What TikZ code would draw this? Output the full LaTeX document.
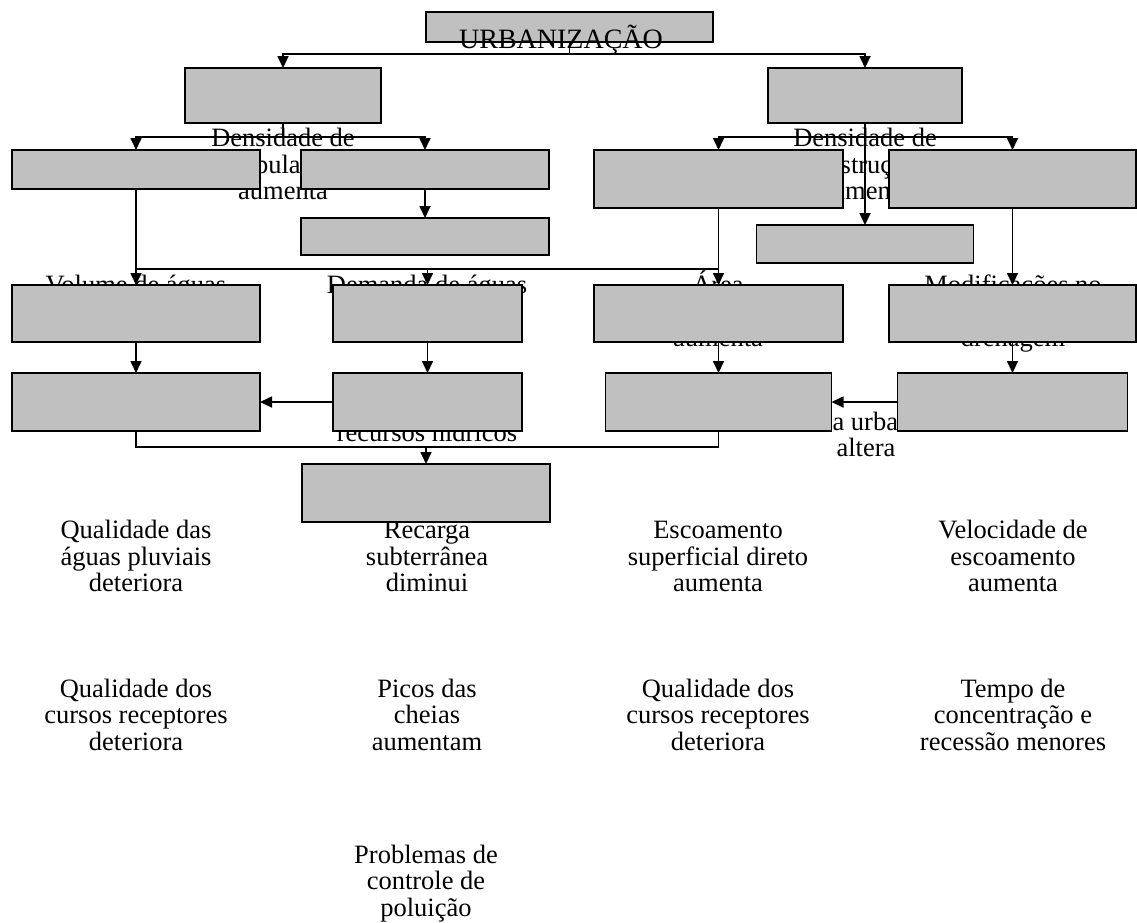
\documentclass[tikz,border=0pt]{standalone}
\usepackage{fontspec}
\setmainfont{Liberation Serif}
\usetikzlibrary{arrows.meta}
\pgfdeclarelayer{txt}
\pgfdeclarelayer{lns}
\pgfdeclarelayer{top}
\pgfsetlayers{txt,lns,main,top}
\definecolor{boxgray}{HTML}{C0C0C0}
\newcommand\drawbox[5]{\node[box,minimum width=#4pt,minimum height=#5pt] (#1) at (#2,#3) {};}
\newcommand\lab[4]{\node[lbl] (#1) at (#2,#3) {#4};}
\begin{document}
\begin{tikzpicture}[x=1pt,y=-1pt,
  box/.style={draw=black,fill=boxgray,line width=1.9pt,inner sep=0pt,outer sep=0pt},
  ln/.style={line width=1.7pt},
  arr/.style={line width=1.7pt,-{Triangle[length=12pt,width=11pt]}},
  lbl/.style={anchor=base,inner sep=0pt,font=\fontsize{26.5}{26.5}\selectfont}]
\useasboundingbox (0,0) rectangle (1137,922);

% boxes
\drawbox{URB}{569.5}{27}{287}{30}
\drawbox{POP}{283}{95.5}{196}{55}
\drawbox{CON}{865}{95.5}{194}{55}
\drawbox{A}{136}{169.5}{248}{39}
\drawbox{B}{425}{169.5}{248}{39}
\drawbox{C}{425}{236.5}{248}{37}
\drawbox{E}{718.5}{179}{249}{58}
\drawbox{F}{1012.5}{179}{247}{58}
\drawbox{D}{865}{244}{217}{38}
\drawbox{G}{136}{313.5}{248}{57}
\drawbox{H}{427.5}{313.5}{189}{57}
\drawbox{I}{718.5}{313.5}{249}{57}
\drawbox{J}{1012.5}{313.5}{247}{57}
\drawbox{K}{136}{402}{248}{58}
\drawbox{L}{427.5}{402}{189}{58}
\drawbox{M}{718.5}{402}{226}{58}
\drawbox{N}{1012.5}{402}{230}{58}
\drawbox{O}{426}{493}{248}{58}

% texts (behind the boxes)
\begin{pgfonlayer}{txt}
\lab{p1}{283}{146.5}{Densidade de}
\lab{p2}{283}{173}{população}
\lab{p3}{283}{199.5}{aumenta}
\lab{c1}{865}{146.5}{Densidade de}
\lab{c2}{865}{173}{construções}
\lab{c3}{865}{199.5}{aumenta}
\lab{v1}{136}{293.5}{Volume de águas}
\lab{d1}{427}{293.5}{Demanda de águas}
\lab{a1}{718}{293.5}{Área}
\lab{a3}{718}{346.5}{aumenta}
\lab{m1}{1013}{293.5}{Modificações no}
\lab{m3}{1013}{346.5}{drenagem}
\lab{r1}{427}{441}{recursos hídricos}
\lab{k1}{852}{430}{Clima urbano}
\lab{k2}{866}{456}{altera}
% row 5
\lab{q1}{136}{538.5}{Qualidade das}
\lab{q2}{136}{565}{águas pluviais}
\lab{q3}{136}{591.5}{deteriora}
\lab{s1}{427}{538.5}{Recarga}
\lab{s2}{427}{565}{subterrânea}
\lab{s3}{427}{591.5}{diminui}
\lab{e1}{718}{538.5}{Escoamento}
\lab{e2}{718}{565}{superficial direto}
\lab{e3}{718}{591.5}{aumenta}
\lab{w1}{1013}{538.5}{Velocidade de}
\lab{w2}{1013}{565}{escoamento}
\lab{w3}{1013}{591.5}{aumenta}
% row 6
\lab{x1}{136}{697}{Qualidade dos}
\lab{x2}{136}{723.5}{cursos receptores}
\lab{x3}{136}{750}{deteriora}
\lab{y1}{427}{697}{Picos das}
\lab{y2}{427}{723.5}{cheias}
\lab{y3}{427}{750}{aumentam}
\lab{z1}{718}{697}{Qualidade dos}
\lab{z2}{718}{723.5}{cursos receptores}
\lab{z3}{718}{750}{deteriora}
\lab{u1}{1013}{697}{Tempo de}
\lab{u2}{1013}{723.5}{concentração e}
\lab{u3}{1013}{750}{recessão menores}
% row 7
\lab{o1}{426}{863}{Problemas de}
\lab{o2}{426}{889.5}{controle de}
\lab{o3}{426}{916}{poluição}
\end{pgfonlayer}

\begin{pgfonlayer}{top}
\node[lbl,font=\fontsize{28}{28}\selectfont] (turb) at (561,48) {URBANIZAÇÃO};
\end{pgfonlayer}

% connectors
\begin{pgfonlayer}{lns}
\coordinate (hA) at (0,54);
\coordinate (hB) at (0,137);
\coordinate (hC) at (0,269);
\coordinate (hD) at (0,447);
\draw[ln] (URB.south) -- (URB.south |- hA);
\draw[arr] (URB.south |- hA) -| (POP.north);
\draw[arr] (URB.south |- hA) -| (CON.north);
\draw[ln] (POP.south) -- (POP.south |- hB);
\draw[arr] (POP.south |- hB) -| (A.north);
\draw[arr] (POP.south |- hB) -| (B.north);
\draw[arr] (B.south) -- (C.north);
\draw[arr] (CON.south) -- (D.north);
\draw[arr] (CON.south |- hB) -| (E.north);
\draw[arr] (CON.south |- hB) -| (F.north);
\draw[arr] (A.south) -- (G.north);
\draw[arr] (E.south) -- (I.north);
\draw[ln] (A.south |- hC) -- (E.south |- hC);
\draw[arr] (H.north |- hC) -- (H.north);
\draw[arr] (F.south) -- (J.north);
\draw[arr] (G.south) -- (K.north);
\draw[arr] (H.south) -- (L.north);
\draw[arr] (I.south) -- (M.north);
\draw[arr] (J.south) -- (N.north);
\draw[arr] (L.west) -- (K.east);
\draw[arr] (N.west) -- (M.east);
\draw[ln] (K.south) -- (K.south |- hD) -- (M.south |- hD) -- (M.south);
\draw[arr] (O.north |- hD) -- (O.north);
\end{pgfonlayer}
\end{tikzpicture}
\end{document}
